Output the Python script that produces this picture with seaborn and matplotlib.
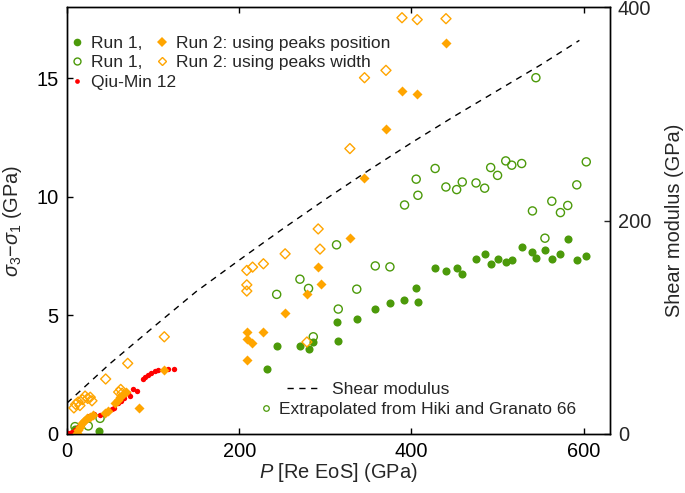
import numpy as np
import pandas as pd
import seaborn as sns
import matplotlib.pyplot as plt
from matplotlib.lines import Line2D

# Run 1 (filled circles)
run1_p = [9, 37.5, 232, 243.5, 270.5, 280.5, 286, 313, 315, 336.5, 358, 375, 391.5,
          405.5, 407.5, 427.5, 440, 452.5, 459, 475, 485, 492, 500, 510, 516.5, 528,
          540.5, 544.5, 555, 563, 573, 581.5, 592, 603]
run1_s = [0.2, 0.14, 2.73, 3.71, 3.72, 3.57, 3.88, 4.72, 3.93, 4.86, 5.28, 5.53, 5.65,
          6.14, 5.56, 7.02, 6.87, 7.02, 6.77, 7.39, 7.59, 7.15, 7.40, 7.26, 7.33, 7.89,
          7.67, 7.44, 7.78, 7.37, 7.61, 8.22, 7.36, 7.51]

# Run 1 (open circles)
run1o_p = [9.3, 24.7, 38.4, 243.5, 270.5, 280.5, 286, 313, 315, 336.5, 358, 375, 392,
           405.5, 407.5, 427.5, 440, 452.5, 459, 475, 485, 492, 500, 509.5, 516.5, 528,
           540.5, 544.5, 555, 563, 573, 581.5, 592, 603]
run1o_s = [0.31, 0.34, 0.66, 5.89, 6.53, 6.14, 4.10, 7.98, 5.27, 6.11, 7.09, 7.05, 9.66,
           10.75, 10.07, 11.20, 10.42, 10.31, 10.63, 10.59, 10.37, 11.24, 10.91, 11.52,
           11.34, 11.41, 9.41, 15.03, 8.26, 9.82, 9.34, 9.64, 10.51, 11.48]

# Run 2: peaks position (filled diamonds)
run2p_p = [11.2, 13, 15, 17, 19.7, 22.7, 26.6, 30.4, 43.9, 48, 55.5, 59.3, 61.3, 65, 69,
           83.2, 112.5, 208.8, 208.8, 208.8, 215.3, 228.1, 253.3, 278.6, 291.7, 294.8,
           328.5, 345.1, 370.4, 389, 406.7, 440.1]
run2p_s = [0.03, 0.17, 0.31, 0.45, 0.56, 0.66, 0.73, 0.80, 0.87, 0.95, 1.29, 1.43, 1.57,
           1.68, 1.78, 1.10, 2.70, 3.12, 4.00, 4.30, 3.85, 4.31, 5.09, 5.89, 7.05, 6.33,
           8.27, 10.78, 12.87, 14.47, 14.34, 16.49]

# Run 2: peaks width (open diamonds)
run2w_p = [8, 10, 13, 15, 18, 21, 24, 27, 29, 44.9, 60, 62.4, 64, 70.5, 113,
           208.8, 208.8, 208.8, 215.5, 228.1, 253.3, 278.6, 291.7, 293.8, 328.5,
           345.5, 370.4, 389, 406.7, 440.1]
run2w_s = [1.10, 1.25, 1.35, 1.20, 1.45, 1.60, 1.50, 1.55, 1.40, 2.32, 1.77, 1.88, 1.72,
           2.98, 4.10, 6.03, 6.29, 6.90, 7.04, 7.18, 7.60, 3.88, 8.65, 7.80, 12.04,
           15.03, 15.34, 17.56, 17.48, 17.52]

# Qiu-Min 12
qiu_p = [1.5, 4, 6, 9, 13, 17, 21, 26, 31, 38, 45, 52, 55, 59.5, 63, 66, 71, 73, 77, 81,
         88.5, 91, 94.5, 98, 102, 106, 117.5, 124.5]
qiu_s = [0.03, 0.05, 0.08, 0.15, 0.30, 0.45, 0.60, 0.75, 0.84, 0.80, 0.87, 1.04, 1.10,
         1.29, 1.38, 1.50, 1.71, 1.60, 1.88, 1.83, 2.31, 2.40, 2.49, 2.58, 2.67, 2.72,
         2.73, 2.73]

# shear modulus (right axis)
shear_p = [0, 50, 100, 150, 200, 250, 300, 350, 400, 450, 500, 550, 595]
shear_g = [29, 66, 100, 133.5, 163, 192, 220, 247, 273, 298, 322, 346, 369]

green = '#4c9a0a'
orange = '#ffa500'
red = '#ff0000'

sns.set_style("ticks")
plt.rcParams['font.family'] = ['Liberation Sans', 'DejaVu Sans']
plt.rcParams['mathtext.fontset'] = 'custom'
plt.rcParams['mathtext.rm'] = 'Liberation Sans'
plt.rcParams['mathtext.it'] = 'Liberation Sans:italic'

fig = plt.figure(figsize=(6.85, 4.93), dpi=100)
ax = fig.add_axes([0.0978, 0.1197, 0.792, 0.8655])
ax2 = ax.twinx()

sns.scatterplot(x=run1o_p, y=run1o_s, ax=ax, marker='o', s=34, color=green,
                edgecolor=green, facecolors='none', linewidth=1.0, zorder=3)
sns.scatterplot(x=run1_p, y=run1_s, ax=ax, marker='o', s=34, color=green,
                linewidth=0, zorder=3)
sns.scatterplot(x=qiu_p, y=qiu_s, ax=ax, marker='o', s=15, color=red,
                linewidth=0, zorder=4)
sns.scatterplot(x=run2p_p, y=run2p_s, ax=ax, marker='D', s=26, color=orange,
                linewidth=0, zorder=5)
sns.scatterplot(x=run2w_p, y=run2w_s, ax=ax, marker='D', s=26, color=orange,
                edgecolor=orange, facecolors='none', linewidth=1.0, zorder=5)

sns.lineplot(x=shear_p, y=shear_g, ax=ax2, color='black', linewidth=1.0,
             linestyle=(0, (4.5, 4)), legend=False)

ax.set_xlim(0, 630)
ax.set_ylim(0, 18)
ax2.set_ylim(0, 400)
ax.set_xticks([0, 200, 400, 600])
ax.set_yticks([0, 5, 10, 15])
ax2.set_yticks([0, 200, 400])

for a in (ax, ax2):
    for sp in a.spines.values():
        sp.set_linewidth(1.0)
        sp.set_color('black')
ax.tick_params(axis='both', direction='in', length=4, width=1.0, labelsize=14.4,
               pad=6, top=True, right=False, colors='black')
ax.tick_params(axis='x', which='both', labeltop=False)
ax2.tick_params(axis='y', direction='in', length=4, width=1.0, labelsize=14.4, pad=6)

ax.set_xlabel('$P$ [Re EoS] (GPa)', fontsize=14.4, labelpad=0)
ax.set_ylabel('$\\sigma_3$−$\\sigma_1$ (GPa)', fontsize=14.4, labelpad=9)
ax2.set_ylabel('Shear modulus (GPa)', fontsize=14.4, labelpad=10)

fs = 12.5
h_run1 = Line2D([], [], ls='none', marker='o', ms=5.5, color=green, mew=0)
h_run1o = Line2D([], [], ls='none', marker='o', ms=5, mfc='none', mec=green, mew=1.0)
h_qiu = Line2D([], [], ls='none', marker='o', ms=3.4, color=red, mew=0)
h_pos = Line2D([], [], ls='none', marker='D', ms=5, color=orange, mew=0)
h_wid = Line2D([], [], ls='none', marker='D', ms=4.5, mfc='none', mec=orange, mew=1.0)
h_shear = Line2D([], [], color='black', lw=1.0, ls=(0, (4.5, 4)))
h_ext = Line2D([], [], ls='none', marker='o', ms=4, mfc='none', mec=green, mew=0.9)

common = dict(frameon=False, fontsize=fs, borderaxespad=0, borderpad=0,
              handlelength=0.8, handletextpad=0.4, labelspacing=0.25, loc='upper left')
leg1 = ax.legend([h_run1, h_run1o, h_qiu], ['Run 1,', 'Run 1,', 'Qiu-Min 12'],
                 bbox_to_anchor=(0.006, 0.934), **common)
ax.add_artist(leg1)
leg2 = ax.legend([h_pos, h_wid], ['Run 2: using peaks position', 'Run 2: using peaks width'],
                 bbox_to_anchor=(0.163, 0.934), **common)
ax.add_artist(leg2)
leg3 = ax.legend([h_shear], ['Shear modulus'], frameon=False, fontsize=fs,
                 borderaxespad=0, borderpad=0, handlelength=2.0, handletextpad=0.57,
                 loc='upper left', bbox_to_anchor=(0.4055, 0.1216))
ax.add_artist(leg3)
ax.legend([h_ext], ['Extrapolated from Hiki and Granato 66'], frameon=False, fontsize=fs,
          borderaxespad=0, borderpad=0, handlelength=0.8, handletextpad=0.35,
          loc='upper left', bbox_to_anchor=(0.354, 0.075))

fig.savefig('out.png', dpi=100)
